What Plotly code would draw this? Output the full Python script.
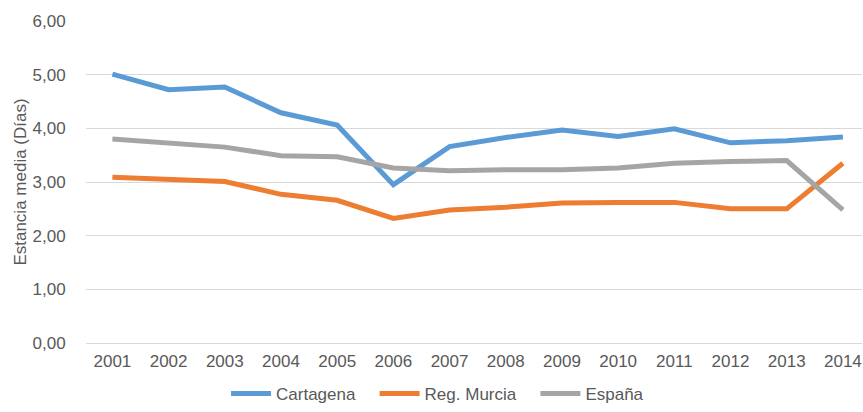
import plotly.graph_objects as go

years = ["2001", "2002", "2003", "2004", "2005", "2006", "2007",
         "2008", "2009", "2010", "2011", "2012", "2013", "2014"]
cartagena = [5.01, 4.72, 4.77, 4.29, 4.06, 2.95, 3.66, 3.83, 3.97, 3.85, 3.99, 3.73, 3.77, 3.84]
murcia = [3.09, 3.04, 3.01, 2.77, 2.66, 2.32, 2.48, 2.53, 2.61, 2.62, 2.62, 2.50, 2.50, 3.35]
espana = [3.80, 3.72, 3.65, 3.49, 3.47, 3.26, 3.21, 3.23, 3.23, 3.26, 3.35, 3.38, 3.40, 2.48]

series = [
    ("Cartagena", cartagena, "#5B9BD5"),
    ("Reg. Murcia", murcia, "#ED7D31"),
    ("España", espana, "#A5A5A5"),
]

idx = list(range(len(years)))
fig = go.Figure()
pad = "\u00a0\u00a0\u00a0"
for i, (name, vals, color) in enumerate(series):
    fig.add_trace(go.Scatter(
        x=idx, y=vals, name=name + (pad if i < len(series) - 1 else ""), mode="lines",
        line=dict(color=color, width=5),
    ))

font = dict(family="Liberation Sans, Arial, sans-serif", size=17, color="#595959")
fig.update_layout(
    width=863, height=412,
    margin=dict(l=86, r=1, t=21, b=68),
    paper_bgcolor="white", plot_bgcolor="white",
    font=font,
    separators=",.",
    showlegend=True,
    legend=dict(orientation="h", x=0.453, xanchor="center", y=-0.10, yanchor="top",
                font=dict(size=17, color="#595959"), itemwidth=40, tracegroupgap=0),
    xaxis=dict(
        tickmode="array", tickvals=idx, ticktext=years, automargin=False,
        range=[-0.47, 13.34], showgrid=False, zeroline=False,
        showline=False, ticks="outside", ticklen=3, tickcolor="rgba(0,0,0,0)",
        tickfont=dict(size=17, color="#595959"),
    ),
    yaxis=dict(
        range=[0, 6], dtick=1, tickformat=".2f", automargin=False,
        showgrid=True, gridcolor="#D9D9D9", gridwidth=1,
        zeroline=True, zerolinecolor="#D9D9D9", zerolinewidth=1,
        showline=False, ticks="outside", ticklen=16, tickcolor="rgba(0,0,0,0)",
        tickfont=dict(size=17, color="#595959"),
        title=dict(text="Estancia media (Días)", font=dict(size=17, color="#595959"), standoff=1),
    ),
)

fig.write_html(
    "out.html",
    config={"displayModeBar": False},
    post_script="document.documentElement.style.overflow='hidden';"
                "document.body.style.margin='0';document.body.style.overflow='hidden';",
)
